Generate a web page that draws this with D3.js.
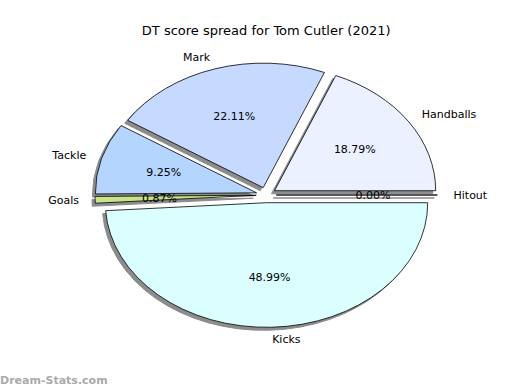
<!DOCTYPE html>
<html>
<head>
<meta charset="utf-8">
<script src="https://cdn.jsdelivr.net/npm/d3@7"></script>
<style>
	body { margin: 0; background: #fff; }
	svg { display: block; font-family: "DejaVu Sans", sans-serif; }
</style>
</head>
<body>
<div id="graph"></div>
<script>
// DT score spread data
const categories = ["Handballs", "Mark", "Tackle", "Goals", "Kicks", "Hitout"];
const values = [18.79, 22.11, 9.25, 0.87, 48.99, 0.00];
const colors = ["#ebf1fe", "#c6d9fe", "#b4d5fe", "#c8e38a", "#dbffff", "#ffffff"];

const width = 520, height = 390;
const cx = 266.2, cy = 195;
const rx = 161.2, ry = 124.5;
const explode = 0.062;

let svg = d3.select("#graph")
	.append("svg")
	.attr("width", width)
	.attr("height", height);

let total = d3.sum(values);
let data = categories.map(function(c, i) {return {name: c, value: values[i], color: colors[i]}});

// matplotlib starts at 3 o'clock and goes counter-clockwise
let pie = d3.pie()
	.sort(null)
	.value(function(d) {return d.value})
	.startAngle(Math.PI / 2)
	.endAngle(Math.PI / 2 - 2 * Math.PI);

let arc = d3.arc().innerRadius(0).outerRadius(1);
let arcs = pie(data);

function dir(d) {
	let a = (d.startAngle + d.endAngle) / 2;
	return [Math.sin(a), -Math.cos(a)];
}

let pieG = svg.append("g");

arcs.forEach(function(d) {
	let v = dir(d);
	let ox = cx + explode * rx * v[0];
	let oy = cy + explode * ry * v[1];

	// shadow
	pieG.append("path")
		.attr("d", arc(d))
		.attr("transform", "translate(" + (ox - 3) + "," + (oy + 3) + ") scale(" + rx + "," + ry + ")")
		.attr("fill", "#8c8c8c")
		.attr("stroke", "#8c8c8c")
		.attr("stroke-width", 1)
		.attr("vector-effect", "non-scaling-stroke");

	pieG.append("path")
		.attr("d", arc(d))
		.attr("transform", "translate(" + ox + "," + oy + ") scale(" + rx + "," + ry + ")")
		.attr("fill", d.data.color)
		.attr("stroke", "#000")
		.attr("stroke-width", 0.8)
		.attr("vector-effect", "non-scaling-stroke");
});

// category labels
arcs.forEach(function(d) {
	let v = dir(d);
	let k = 1.1 + explode;
	let x = cx + k * rx * v[0];
	let y = cy + k * ry * v[1];
	svg.append("text")
		.attr("x", x)
		.attr("y", y)
		.attr("dy", "0.35em")
		.style("text-anchor", v[0] > 0 ? "start" : "end")
		.style("font-size", "11px")
		.text(d.data.name);
});

// percentage labels
arcs.forEach(function(d) {
	let v = dir(d);
	let k = 0.6 + explode;
	svg.append("text")
		.attr("x", cx + k * rx * v[0])
		.attr("y", cy + k * ry * v[1])
		.attr("dy", "0.35em")
		.style("text-anchor", "middle")
		.style("font-size", "11px")
		.text((d.data.value / total * 100).toFixed(2) + "%");
});

// Title
svg.append("text")
	.attr("x", cx)
	.attr("y", 30)
	.attr("dy", "0.35em")
	.style("text-anchor", "middle")
	.style("font-size", "13px")
	.text("DT score spread for Tom Cutler (2021)");

// watermark
svg.append("text")
	.attr("x", 0)
	.attr("y", 384)
	.style("font-size", "11px")
	.style("font-weight", "bold")
	.style("fill", "#aaaaaa")
	.text("Dream-Stats.com");
</script>
</body>
</html>
